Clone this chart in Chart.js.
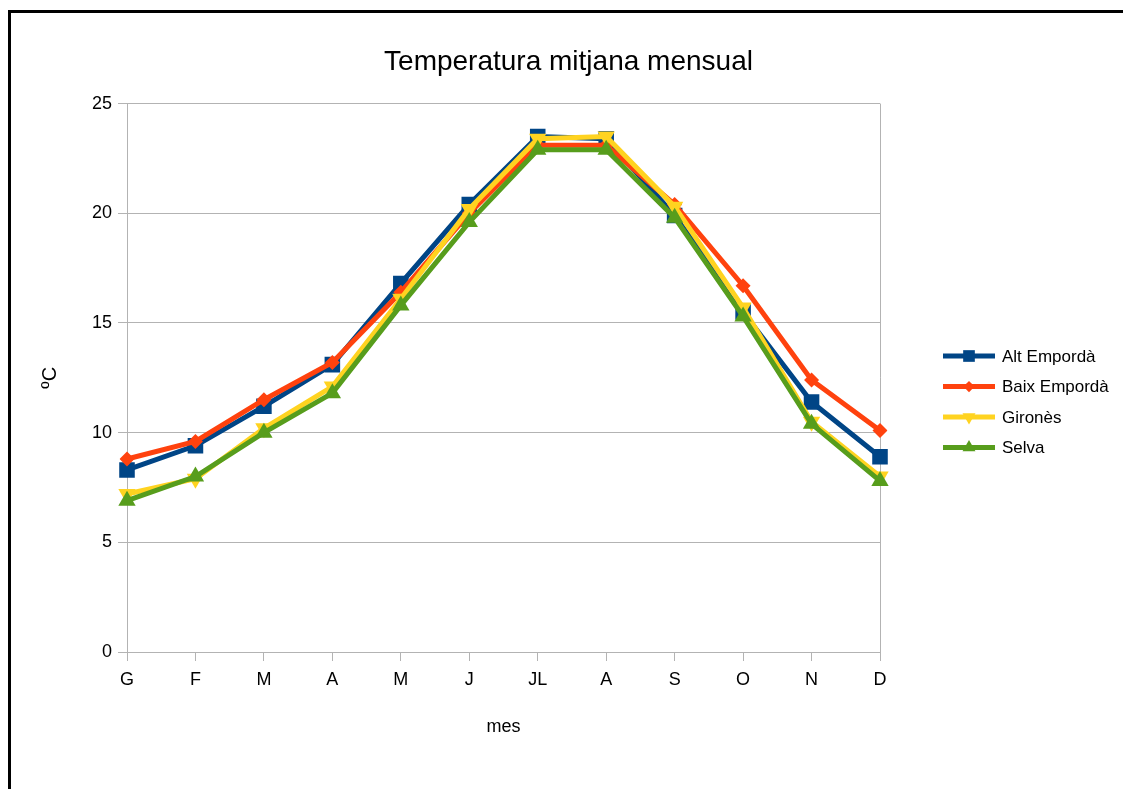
<!DOCTYPE html>
<html>
<head>
<meta charset="utf-8">
<script src="https://cdn.jsdelivr.net/npm/chart.js@4.4.1/dist/chart.umd.min.js"></script>
<style>
  body { margin: 0; background: #fff; }
  #wrap { position: relative; width: 1123px; height: 789px; overflow: hidden; }
  #frame { position: absolute; left: 8px; top: 10px; right: -10px; bottom: -10px;
           border-top: 3px solid #000; border-left: 3px solid #000; pointer-events: none; }
</style>
</head>
<body>
<div id="wrap">
  <canvas id="tempChart" width="1123" height="789"></canvas>
  <div id="frame"></div>
</div>
<script>
// mesos
const months = ["G", "F", "M", "A", "M", "J", "JL", "A", "S", "O", "N", "D"];

// temperatura mitjana (ºC) per comarca
const altEmporda  = [8.3, 9.4, 11.2, 13.1, 16.8, 20.4, 23.5, 23.4, 19.9, 15.5, 11.4, 8.9];
const baixEmporda = [8.8, 9.6, 11.5, 13.2, 16.4, 20.0, 23.1, 23.1, 20.4, 16.7, 12.4, 10.1];
const girones     = [7.2, 7.9, 10.2, 12.1, 16.1, 20.2, 23.4, 23.5, 20.3, 15.7, 10.5, 8.0];
const selva       = [6.9, 8.0, 10.0, 11.8, 15.8, 19.6, 22.9, 22.9, 19.8, 15.3, 10.4, 7.8];

const yTicks = [0, 5, 10, 15, 20, 25];

const FONT = "'Liberation Sans', Arial, sans-serif";
const GRID = "#b3b3b3";

Chart.defaults.font.family = FONT;
Chart.defaults.color = "#000";

function serie(label, data, color, style, radius, rotation, order) {
  return {
    label: label,
    data: data,
    borderColor: color,
    backgroundColor: color,
    borderWidth: 5,
    pointStyle: style,
    pointRadius: radius,
    pointHoverRadius: radius,
    pointRotation: rotation,
    pointBorderWidth: 0,
    tension: 0,
    order: order,
    legendRadius: radius * 0.75
  };
}

// llegenda a la dreta amb línia + marcador
const sideLegend = {
  id: "sideLegend",
  afterDraw(chart) {
    const ctx = chart.ctx;
    const x0 = 943, x1 = 995, y0 = 356, step = 30.5;
    ctx.save();
    chart.data.datasets.forEach((ds, i) => {
      const y = y0 + i * step;
      ctx.strokeStyle = ds.borderColor;
      ctx.lineWidth = 5;
      ctx.beginPath();
      ctx.moveTo(x0, y);
      ctx.lineTo(x1, y);
      ctx.stroke();
      ctx.fillStyle = ds.backgroundColor;
      Chart.helpers.drawPoint(ctx, {
        pointStyle: ds.pointStyle,
        rotation: ds.pointRotation,
        radius: ds.legendRadius,
        borderWidth: 0
      }, (x0 + x1) / 2, y);
      ctx.fillStyle = "#000";
      ctx.font = "17px " + FONT;
      ctx.textBaseline = "middle";
      ctx.textAlign = "left";
      ctx.fillText(ds.label, 1002, y + 1);
    });
    ctx.restore();
  }
};

const ctx = document.getElementById("tempChart").getContext("2d");
new Chart(ctx, {
  type: "line",
  data: {
    labels: months,
    datasets: [
      serie("Alt Empordà", altEmporda, "#004586", "rect", 11, 0, 4),
      serie("Baix Empordà", baixEmporda, "#ff420e", "rectRot", 7.5, 0, 3),
      serie("Gironès", girones, "#ffd320", "triangle", 10, 180, 2),
      serie("Selva", selva, "#579d1c", "triangle", 10, 0, 1)
    ]
  },
  options: {
    responsive: false,
    animation: false,
    layout: { padding: { left: 14, right: 0, top: 0, bottom: 0 } },
    plugins: {
      legend: { display: false },
      tooltip: { enabled: false },
      title: {
        display: true,
        text: "Temperatura mitjana mensual",
        color: "#000",
        font: { size: 28, weight: "normal", family: FONT },
        padding: { top: 45, bottom: 25 }
      }
    },
    scales: {
      x: {
        offset: false,
        grid: {
          color: (c) => (c.index === months.length - 1 ? GRID : "transparent"),
          tickColor: GRID,
          tickLength: 9,
          lineWidth: 1
        },
        border: { color: GRID, width: 1 },
        ticks: { font: { size: 18 }, padding: 8, maxRotation: 0, autoSkip: false },
        title: {
          display: true,
          text: "mes",
          font: { size: 18 },
          padding: { top: 0, bottom: 51 }
        },
        afterFit(scale) { scale.height = 137; }
      },
      y: {
        min: 0,
        max: 25,
        afterBuildTicks(scale) { scale.ticks = yTicks.map(v => ({ value: v })); },
        grid: { color: GRID, tickColor: GRID, tickLength: 9 },
        border: { color: GRID, width: 1 },
        ticks: { font: { size: 18 }, padding: 6 },
        title: {
          display: true,
          text: "ºC",
          font: { size: 20 },
          padding: { top: 24, bottom: 0 }
        },
        afterFit(scale) { scale.width = 113; }
      },
      // espai buit per a la llegenda
      legendSpace: {
        position: "right",
        axis: "y",
        type: "linear",
        grid: { display: false },
        border: { display: false },
        ticks: { display: false },
        afterFit(scale) { scale.width = 243; }
      }
    }
  },
  plugins: [sideLegend]
});
</script>
</body>
</html>
